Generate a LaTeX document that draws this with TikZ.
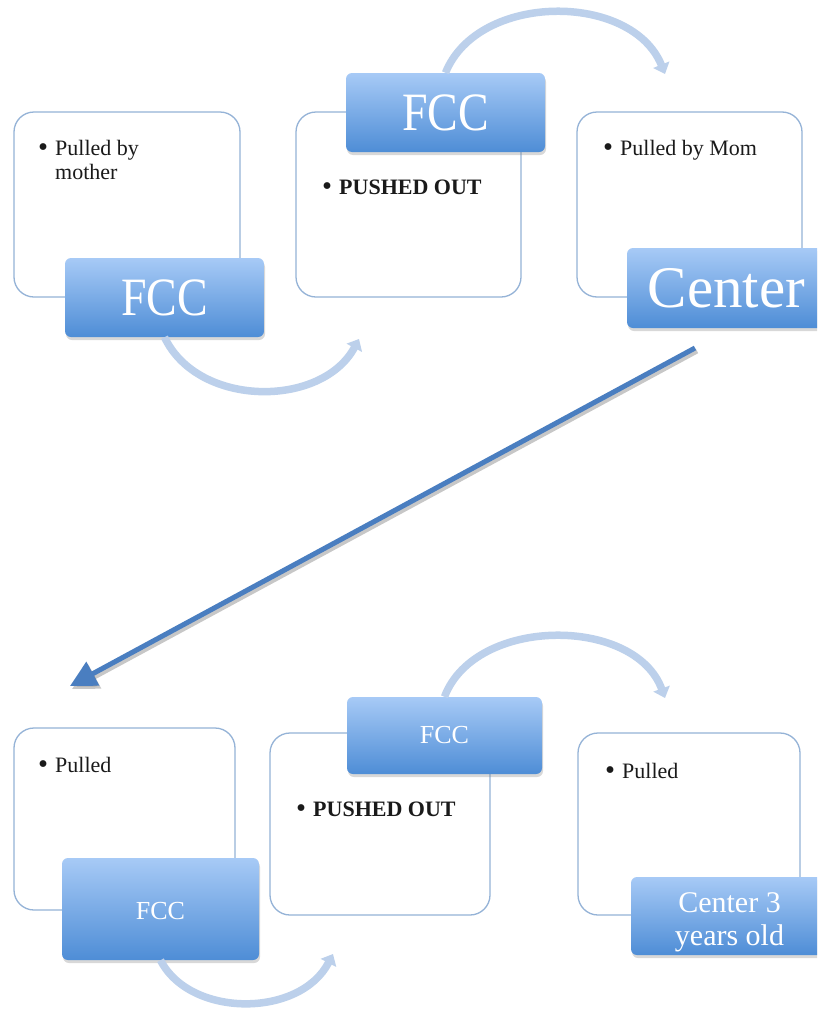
\documentclass[tikz,border=0pt]{standalone}
\usepackage{fontspec}
\usepackage{graphicx}
\setmainfont{Liberation Serif}
\usetikzlibrary{arrows.meta,shadows}
\definecolor{boxline}{HTML}{95B3D7}
\definecolor{tagtop}{HTML}{A7CAF6}
\definecolor{tagbot}{HTML}{4E8DD6}
\definecolor{cyc}{HTML}{BCD0EB}
\definecolor{bigc}{HTML}{4A7EC0}
\definecolor{textc}{HTML}{1A1A1A}
\tikzset{
  card/.style={draw=boxline, line width=1.3pt, rounded corners=20pt, fill=white, inner sep=0pt},
  tag/.style={rounded corners=6pt, top color=tagtop, bottom color=tagbot, draw=none,
    text=white, inner sep=0pt, align=center,
    drop shadow={shadow xshift=1pt, shadow yshift=-3pt, opacity=0.3}},
  bodytext/.style={anchor=base west, inner sep=0pt, text=textc, font=\fontsize{22}{24}\selectfont},
  bigtag/.style={font=\fontsize{54}{54}\selectfont},
  smalltag/.style={font=\fontsize{26}{26}\selectfont},
  cycarrow/.style={line width=7.5pt, draw=cyc, -{Triangle[width=17pt,length=10pt]}},
  bigarrow/.style={line width=5pt, draw=bigc, -{Triangle[width=26pt,length=26pt]}}
}
\newcommand{\bul}{\makebox[17pt][l]{\raisebox{-1.5pt}{\scalebox{1.3}{\textbullet}}}}
\newcommand{\sinkby}[2]{\raisebox{-#1}[\height][\depth]{#2}}
\begin{document}
\begin{tikzpicture}[x=1pt,y=-1pt]
\useasboundingbox (0,0) rectangle (817,1012);
\clip (0,0) rectangle (817,1012);
\fill[white] (0,0) rectangle (817,1012);

% cards
\node[card, minimum width=226pt, minimum height=185pt] (b1) at (127,204.5) {};
\node[card, minimum width=225pt, minimum height=185pt] (b2) at (408.5,204.5) {};
\node[card, minimum width=225pt, minimum height=185pt] (b3) at (689.5,204.5) {};
\node[card, minimum width=221pt, minimum height=182pt] (b4) at (124.5,819) {};
\node[card, minimum width=220pt, minimum height=182pt] (b5) at (380,824) {};
\node[card, minimum width=222pt, minimum height=182pt] (b6) at (689,824) {};

% free ends of connectors
\coordinate (e1) at (359,339);
\coordinate (e2) at (665,74);
\coordinate (e4) at (333,954);
\coordinate (e5) at (665,698);
\coordinate (bs) at (695,348);
\coordinate (be) at (70,686);

% tags
\node[tag, bigtag, minimum width=199pt, minimum height=79pt] (t1) at (164.5,297.5) {\scalebox{0.85}[1]{FCC}};
\node[tag, bigtag, minimum width=199pt, minimum height=79pt] (t2) at (445.5,112.5) {\scalebox{0.85}[1]{FCC}};
\node[tag, font=\fontsize{59}{59}\selectfont, minimum width=199pt, minimum height=80pt] (t3) at (726.5,288) {Center};
\node[tag, smalltag, minimum width=197pt, minimum height=102pt] (t4) at (160.5,909) {\sinkby{2pt}{FCC}};
\node[tag, smalltag, minimum width=195pt, minimum height=77pt] (t5) at (444.5,735.5) {FCC};
\node[tag, font=\fontsize{30}{33}\selectfont, minimum width=197pt, minimum height=78pt] (t6) at (729.5,916) {\sinkby{6pt}{\begin{tabular}{@{}c@{}}Center 3\\years old\end{tabular}}};

% cycle connectors
\draw[cycarrow] (t1.south) .. controls (198,408) and (322,408) .. (e1);
\draw[cycarrow] (t2.north) .. controls (478,-8) and (632,-8) .. (e2);
\draw[cycarrow] (t4.south) .. controls (190,1018) and (300,1018) .. (e4);
\draw[cycarrow] (t5.north) .. controls (475,616) and (635,616) .. (e5);

% big arrow with shadow
\begin{scope}[transform canvas={shift={(2pt,-3pt)}}]
\draw[bigarrow, draw=black, opacity=0.22] (bs) -- (be);
\end{scope}
\draw[bigarrow] (bs) -- (be);

% texts
\node[bodytext] (p1) at (38,155) {\begin{tabular}[t]{@{}l@{}l@{}}\bul&Pulled by\\&mother\end{tabular}};
\node[bodytext] (p2) at (322,194) {\bul\textbf{PUSHED OUT}};
\node[bodytext] (p3) at (603,155) {\bul Pulled by Mom};
\node[bodytext] (p4) at (38,772) {\bul Pulled};
\node[bodytext] (p5) at (296,816) {\bul\textbf{PUSHED OUT}};
\node[bodytext] (p6) at (605,778) {\bul Pulled};
\end{tikzpicture}
\end{document}
